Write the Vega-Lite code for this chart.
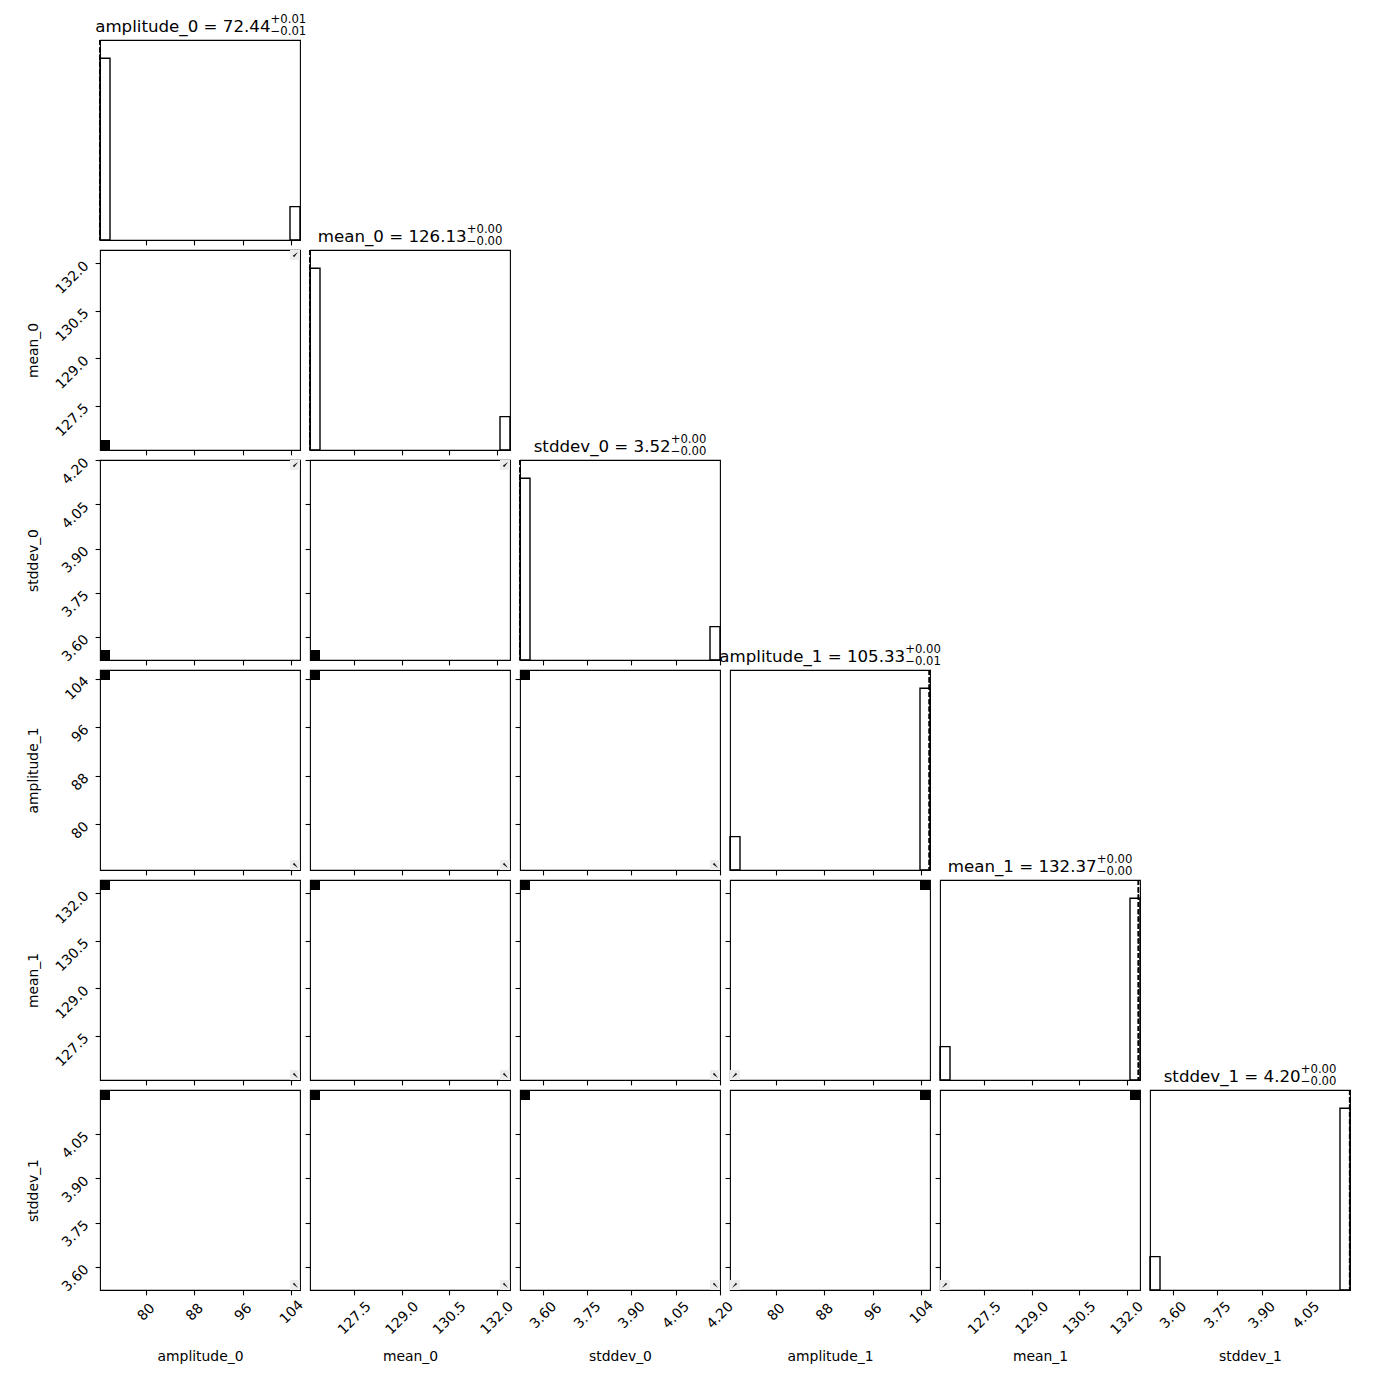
{
"$schema": "https://vega.github.io/schema/vega-lite/v6.json",
"background": "white",
"padding": {"left": 25, "top": 13, "right": 5, "bottom": 5},
"datasets": {
"modes": [
{"mode":"A","amplitude_0_lo":72.40,"amplitude_0_hi":74.052,"amplitude_0_mid":73.226,"mean_0_lo":126.10,"mean_0_hi":126.416,"mean_0_mid":126.258,"stddev_0_lo":3.522,"stddev_0_hi":3.5559,"stddev_0_mid":3.539,"amplitude_1_lo":103.788,"amplitude_1_hi":105.44,"amplitude_1_mid":104.614,"mean_1_lo":132.104,"mean_1_hi":132.42,"mean_1_mid":132.262,"stddev_1_lo":4.1651,"stddev_1_hi":4.199,"stddev_1_mid":4.182},
{"mode":"B","amplitude_0_lo":103.788,"amplitude_0_hi":105.44,"amplitude_0_mid":104.614,"mean_0_lo":132.104,"mean_0_hi":132.42,"mean_0_mid":132.262,"stddev_0_lo":4.1666,"stddev_0_hi":4.2005,"stddev_0_mid":4.1835,"amplitude_1_lo":72.40,"amplitude_1_hi":74.052,"amplitude_1_mid":73.226,"mean_1_lo":126.10,"mean_1_hi":126.416,"mean_1_mid":126.258,"stddev_1_lo":3.522,"stddev_1_hi":3.5559,"stddev_1_mid":3.539}
],
"hist": [
{"param":"amplitude_0","lo":72.40,"hi":74.052,"count":845},
{"param":"amplitude_0","lo":103.788,"hi":105.44,"count":155},
{"param":"mean_0","lo":126.10,"hi":126.416,"count":845},
{"param":"mean_0","lo":132.104,"hi":132.42,"count":155},
{"param":"stddev_0","lo":3.522,"hi":3.5559,"count":845},
{"param":"stddev_0","lo":4.1666,"hi":4.2005,"count":155},
{"param":"amplitude_1","lo":72.40,"hi":74.052,"count":155},
{"param":"amplitude_1","lo":103.788,"hi":105.44,"count":845},
{"param":"mean_1","lo":126.10,"hi":126.416,"count":155},
{"param":"mean_1","lo":132.104,"hi":132.42,"count":845},
{"param":"stddev_1","lo":3.522,"hi":3.5559,"count":155},
{"param":"stddev_1","lo":4.1651,"hi":4.199,"count":845}
],
"quantiles": [
{"param":"amplitude_0","value":72.401},{"param":"amplitude_0","value":72.402},{"param":"amplitude_0","value":72.403},
{"param":"mean_0","value":126.1002},{"param":"mean_0","value":126.1004},{"param":"mean_0","value":126.1006},
{"param":"stddev_0","value":3.5221},{"param":"stddev_0","value":3.5222},{"param":"stddev_0","value":3.5223},
{"param":"amplitude_1","value":105.32},{"param":"amplitude_1","value":105.33},{"param":"amplitude_1","value":105.334},
{"param":"mean_1","value":132.368},{"param":"mean_1","value":132.37},{"param":"mean_1","value":132.372},
{"param":"stddev_1","value":4.1975},{"param":"stddev_1","value":4.198},{"param":"stddev_1","value":4.1985}
],
"titles": [
{"param":"amplitude_0","label":"amplitude_0 = 72.44","up":"+0.01","down":"−0.01"},
{"param":"mean_0","label":"mean_0 = 126.13","up":"+0.00","down":"−0.00"},
{"param":"stddev_0","label":"stddev_0 = 3.52","up":"+0.00","down":"−0.00"},
{"param":"amplitude_1","label":"amplitude_1 = 105.33","up":"+0.00","down":"−0.01"},
{"param":"mean_1","label":"mean_1 = 132.37","up":"+0.00","down":"−0.00"},
{"param":"stddev_1","label":"stddev_1 = 4.20","up":"+0.00","down":"−0.00"}
],
"empty": []
},
"config": {
"view": {"stroke": "black", "strokeWidth": 1.1},
"axis": {"domain": false, "grid": false, "ticks": true, "tickColor": "black", "tickWidth": 1.1, "tickSize": 4.9, "labelFont": "DejaVu Sans", "labelFontSize": 13.9, "labelColor": "black", "labelAngle": -45, "labelAlign": "center", "labelBaseline": "middle", "labelOverlap": false, "labelFlush": false, "labelBound": false, "titleFont": "DejaVu Sans", "titleFontSize": 13.9, "titleFontWeight": "normal", "titleColor": "black"},
"axisX": {"titleBaseline": "middle", "titleX": 100, "titleY": 66, "titleAngle": 0},
"axisY": {"titleBaseline": "middle", "titleX": -67, "titleY": 100, "titleAngle": -90, "titleAlign": "center"},
"text": {"font": "DejaVu Sans"}
},
"columns": 6,
"bounds": "flush",
"spacing": 10,
"resolve": {"scale": {"x": "independent", "y": "independent"}},
"concat": [
{"width":200,"height":200,"layer":[
{"data":{"name":"hist"},"transform":[{"filter":"datum.param==='amplitude_0'"}],"mark":{"type":"rect","fill":"transparent","stroke":"black","strokeWidth":1.39},"encoding":{"x":{"field":"lo","type":"quantitative","scale":{"domain":[72.40,105.44],"nice":false,"zero":false},"axis":{"values":[80,88,96,104],"labels":false,"title":null}},"x2":{"field":"hi"},"y":{"field":"count","type":"quantitative","scale":{"domain":[0,929.5],"nice":false},"axis":null},"y2":{"datum":0}}},
{"data":{"name":"quantiles"},"transform":[{"filter":"datum.param==='amplitude_0'"}],"mark":{"type":"rule","color":"black","strokeWidth":1.39,"strokeDash":[5.1,2.2]},"encoding":{"x":{"field":"value","type":"quantitative"}}},
{"data":{"name":"titles"},"transform":[{"filter":"datum.param==='amplitude_0'"}],"mark":{"type":"text","align":"right","baseline":"alphabetic","fontSize":16.67,"color":"black"},"encoding":{"text":{"field":"label"},"x":{"datum":100.57},"y":{"datum":968.1}}},
{"data":{"name":"titles"},"transform":[{"filter":"datum.param==='amplitude_0'"}],"mark":{"type":"text","align":"left","baseline":"alphabetic","fontSize":11.67,"color":"black"},"encoding":{"text":{"field":"up"},"x":{"datum":100.57},"y":{"datum":1007.1}}},
{"data":{"name":"titles"},"transform":[{"filter":"datum.param==='amplitude_0'"}],"mark":{"type":"text","align":"left","baseline":"alphabetic","fontSize":11.67,"color":"black"},"encoding":{"text":{"field":"down"},"x":{"datum":100.57},"y":{"datum":952.7}}}
]},
{"width":200,"height":200,"view":{"stroke":null},"data":{"name":"empty"},"mark":"point"},
{"width":200,"height":200,"view":{"stroke":null},"data":{"name":"empty"},"mark":"point"},
{"width":200,"height":200,"view":{"stroke":null},"data":{"name":"empty"},"mark":"point"},
{"width":200,"height":200,"view":{"stroke":null},"data":{"name":"empty"},"mark":"point"},
{"width":200,"height":200,"view":{"stroke":null},"data":{"name":"empty"},"mark":"point"},

{"width":200,"height":200,"layer":[
{"data":{"name":"modes"},"transform":[{"filter":"datum.mode==='A'"}],"mark":{"type":"rect","color":"black"},"encoding":{"x":{"field":"amplitude_0_lo","type":"quantitative","scale":{"domain":[72.40,105.44],"nice":false,"zero":false},"axis":{"values":[80,88,96,104],"labels":false,"title":null}},"x2":{"field":"amplitude_0_hi"},"y":{"field":"mean_0_lo","type":"quantitative","scale":{"domain":[126.10,132.42],"nice":false,"zero":false},"axis":{"values":[127.5,129.0,130.5,132.0],"format":".1f","title":"mean_0","labelAlign":"right","labelPadding":9}},"y2":{"field":"mean_0_hi"}}},
{"data":{"name":"modes"},"transform":[{"filter":"datum.mode==='B'"}],"mark":{"type":"rect","color":"#ececec"},"encoding":{"x":{"field":"amplitude_0_lo","type":"quantitative"},"x2":{"field":"amplitude_0_hi"},"y":{"field":"mean_0_lo","type":"quantitative"},"y2":{"field":"mean_0_hi"}}},
{"data":{"name":"modes"},"transform":[{"filter":"datum.mode==='B'"}],"mark":{"type":"point","shape":"wedge","filled":true,"color":"#111111","opacity":1,"size":55,"angle":45},"encoding":{"x":{"field":"amplitude_0_mid","type":"quantitative"},"y":{"field":"mean_0_mid","type":"quantitative"}}}
]},
{"width":200,"height":200,"layer":[
{"data":{"name":"hist"},"transform":[{"filter":"datum.param==='mean_0'"}],"mark":{"type":"rect","fill":"transparent","stroke":"black","strokeWidth":1.39},"encoding":{"x":{"field":"lo","type":"quantitative","scale":{"domain":[126.10,132.42],"nice":false,"zero":false},"axis":{"values":[127.5,129.0,130.5,132.0],"labels":false,"title":null}},"x2":{"field":"hi"},"y":{"field":"count","type":"quantitative","scale":{"domain":[0,929.5],"nice":false},"axis":null},"y2":{"datum":0}}},
{"data":{"name":"quantiles"},"transform":[{"filter":"datum.param==='mean_0'"}],"mark":{"type":"rule","color":"black","strokeWidth":1.39,"strokeDash":[5.1,2.2]},"encoding":{"x":{"field":"value","type":"quantitative"}}},
{"data":{"name":"titles"},"transform":[{"filter":"datum.param==='mean_0'"}],"mark":{"type":"text","align":"right","baseline":"alphabetic","fontSize":16.67,"color":"black"},"encoding":{"text":{"field":"label"},"x":{"datum":131.052},"y":{"datum":968.1}}},
{"data":{"name":"titles"},"transform":[{"filter":"datum.param==='mean_0'"}],"mark":{"type":"text","align":"left","baseline":"alphabetic","fontSize":11.67,"color":"black"},"encoding":{"text":{"field":"up"},"x":{"datum":131.052},"y":{"datum":1007.1}}},
{"data":{"name":"titles"},"transform":[{"filter":"datum.param==='mean_0'"}],"mark":{"type":"text","align":"left","baseline":"alphabetic","fontSize":11.67,"color":"black"},"encoding":{"text":{"field":"down"},"x":{"datum":131.052},"y":{"datum":952.7}}}
]},
{"width":200,"height":200,"view":{"stroke":null},"data":{"name":"empty"},"mark":"point"},
{"width":200,"height":200,"view":{"stroke":null},"data":{"name":"empty"},"mark":"point"},
{"width":200,"height":200,"view":{"stroke":null},"data":{"name":"empty"},"mark":"point"},
{"width":200,"height":200,"view":{"stroke":null},"data":{"name":"empty"},"mark":"point"},

{"width":200,"height":200,"layer":[
{"data":{"name":"modes"},"transform":[{"filter":"datum.mode==='A'"}],"mark":{"type":"rect","color":"black"},"encoding":{"x":{"field":"amplitude_0_lo","type":"quantitative","scale":{"domain":[72.40,105.44],"nice":false,"zero":false},"axis":{"values":[80,88,96,104],"labels":false,"title":null}},"x2":{"field":"amplitude_0_hi"},"y":{"field":"stddev_0_lo","type":"quantitative","scale":{"domain":[3.522,4.2005],"nice":false,"zero":false},"axis":{"values":[3.60,3.75,3.90,4.05,4.20],"format":".2f","title":"stddev_0","labelAlign":"right","labelPadding":9}},"y2":{"field":"stddev_0_hi"}}},
{"data":{"name":"modes"},"transform":[{"filter":"datum.mode==='B'"}],"mark":{"type":"rect","color":"#ececec"},"encoding":{"x":{"field":"amplitude_0_lo","type":"quantitative"},"x2":{"field":"amplitude_0_hi"},"y":{"field":"stddev_0_lo","type":"quantitative"},"y2":{"field":"stddev_0_hi"}}},
{"data":{"name":"modes"},"transform":[{"filter":"datum.mode==='B'"}],"mark":{"type":"point","shape":"wedge","filled":true,"color":"#111111","opacity":1,"size":55,"angle":45},"encoding":{"x":{"field":"amplitude_0_mid","type":"quantitative"},"y":{"field":"stddev_0_mid","type":"quantitative"}}}
]},
{"width":200,"height":200,"layer":[
{"data":{"name":"modes"},"transform":[{"filter":"datum.mode==='A'"}],"mark":{"type":"rect","color":"black"},"encoding":{"x":{"field":"mean_0_lo","type":"quantitative","scale":{"domain":[126.10,132.42],"nice":false,"zero":false},"axis":{"values":[127.5,129.0,130.5,132.0],"labels":false,"title":null}},"x2":{"field":"mean_0_hi"},"y":{"field":"stddev_0_lo","type":"quantitative","scale":{"domain":[3.522,4.2005],"nice":false,"zero":false},"axis":{"values":[3.60,3.75,3.90,4.05,4.20],"labels":false,"title":null}},"y2":{"field":"stddev_0_hi"}}},
{"data":{"name":"modes"},"transform":[{"filter":"datum.mode==='B'"}],"mark":{"type":"rect","color":"#ececec"},"encoding":{"x":{"field":"mean_0_lo","type":"quantitative"},"x2":{"field":"mean_0_hi"},"y":{"field":"stddev_0_lo","type":"quantitative"},"y2":{"field":"stddev_0_hi"}}},
{"data":{"name":"modes"},"transform":[{"filter":"datum.mode==='B'"}],"mark":{"type":"point","shape":"wedge","filled":true,"color":"#111111","opacity":1,"size":55,"angle":45},"encoding":{"x":{"field":"mean_0_mid","type":"quantitative"},"y":{"field":"stddev_0_mid","type":"quantitative"}}}
]},
{"width":200,"height":200,"layer":[
{"data":{"name":"hist"},"transform":[{"filter":"datum.param==='stddev_0'"}],"mark":{"type":"rect","fill":"transparent","stroke":"black","strokeWidth":1.39},"encoding":{"x":{"field":"lo","type":"quantitative","scale":{"domain":[3.522,4.2005],"nice":false,"zero":false},"axis":{"values":[3.60,3.75,3.90,4.05,4.20],"labels":false,"title":null}},"x2":{"field":"hi"},"y":{"field":"count","type":"quantitative","scale":{"domain":[0,929.5],"nice":false},"axis":null},"y2":{"datum":0}}},
{"data":{"name":"quantiles"},"transform":[{"filter":"datum.param==='stddev_0'"}],"mark":{"type":"rule","color":"black","strokeWidth":1.39,"strokeDash":[5.1,2.2]},"encoding":{"x":{"field":"value","type":"quantitative"}}},
{"data":{"name":"titles"},"transform":[{"filter":"datum.param==='stddev_0'"}],"mark":{"type":"text","align":"right","baseline":"alphabetic","fontSize":16.67,"color":"black"},"encoding":{"text":{"field":"label"},"x":{"datum":4.0332},"y":{"datum":968.1}}},
{"data":{"name":"titles"},"transform":[{"filter":"datum.param==='stddev_0'"}],"mark":{"type":"text","align":"left","baseline":"alphabetic","fontSize":11.67,"color":"black"},"encoding":{"text":{"field":"up"},"x":{"datum":4.0332},"y":{"datum":1007.1}}},
{"data":{"name":"titles"},"transform":[{"filter":"datum.param==='stddev_0'"}],"mark":{"type":"text","align":"left","baseline":"alphabetic","fontSize":11.67,"color":"black"},"encoding":{"text":{"field":"down"},"x":{"datum":4.0332},"y":{"datum":952.7}}}
]},
{"width":200,"height":200,"view":{"stroke":null},"data":{"name":"empty"},"mark":"point"},
{"width":200,"height":200,"view":{"stroke":null},"data":{"name":"empty"},"mark":"point"},
{"width":200,"height":200,"view":{"stroke":null},"data":{"name":"empty"},"mark":"point"},

{"width":200,"height":200,"layer":[
{"data":{"name":"modes"},"transform":[{"filter":"datum.mode==='A'"}],"mark":{"type":"rect","color":"black"},"encoding":{"x":{"field":"amplitude_0_lo","type":"quantitative","scale":{"domain":[72.40,105.44],"nice":false,"zero":false},"axis":{"values":[80,88,96,104],"labels":false,"title":null}},"x2":{"field":"amplitude_0_hi"},"y":{"field":"amplitude_1_lo","type":"quantitative","scale":{"domain":[72.40,105.44],"nice":false,"zero":false},"axis":{"values":[80,88,96,104],"title":"amplitude_1","labelAlign":"right","labelPadding":9}},"y2":{"field":"amplitude_1_hi"}}},
{"data":{"name":"modes"},"transform":[{"filter":"datum.mode==='B'"}],"mark":{"type":"rect","color":"#ececec"},"encoding":{"x":{"field":"amplitude_0_lo","type":"quantitative"},"x2":{"field":"amplitude_0_hi"},"y":{"field":"amplitude_1_lo","type":"quantitative"},"y2":{"field":"amplitude_1_hi"}}},
{"data":{"name":"modes"},"transform":[{"filter":"datum.mode==='B'"}],"mark":{"type":"point","shape":"wedge","filled":true,"color":"#111111","opacity":1,"size":55,"angle":135},"encoding":{"x":{"field":"amplitude_0_mid","type":"quantitative"},"y":{"field":"amplitude_1_mid","type":"quantitative"}}}
]},
{"width":200,"height":200,"layer":[
{"data":{"name":"modes"},"transform":[{"filter":"datum.mode==='A'"}],"mark":{"type":"rect","color":"black"},"encoding":{"x":{"field":"mean_0_lo","type":"quantitative","scale":{"domain":[126.10,132.42],"nice":false,"zero":false},"axis":{"values":[127.5,129.0,130.5,132.0],"labels":false,"title":null}},"x2":{"field":"mean_0_hi"},"y":{"field":"amplitude_1_lo","type":"quantitative","scale":{"domain":[72.40,105.44],"nice":false,"zero":false},"axis":{"values":[80,88,96,104],"labels":false,"title":null}},"y2":{"field":"amplitude_1_hi"}}},
{"data":{"name":"modes"},"transform":[{"filter":"datum.mode==='B'"}],"mark":{"type":"rect","color":"#ececec"},"encoding":{"x":{"field":"mean_0_lo","type":"quantitative"},"x2":{"field":"mean_0_hi"},"y":{"field":"amplitude_1_lo","type":"quantitative"},"y2":{"field":"amplitude_1_hi"}}},
{"data":{"name":"modes"},"transform":[{"filter":"datum.mode==='B'"}],"mark":{"type":"point","shape":"wedge","filled":true,"color":"#111111","opacity":1,"size":55,"angle":135},"encoding":{"x":{"field":"mean_0_mid","type":"quantitative"},"y":{"field":"amplitude_1_mid","type":"quantitative"}}}
]},
{"width":200,"height":200,"layer":[
{"data":{"name":"modes"},"transform":[{"filter":"datum.mode==='A'"}],"mark":{"type":"rect","color":"black"},"encoding":{"x":{"field":"stddev_0_lo","type":"quantitative","scale":{"domain":[3.522,4.2005],"nice":false,"zero":false},"axis":{"values":[3.60,3.75,3.90,4.05,4.20],"labels":false,"title":null}},"x2":{"field":"stddev_0_hi"},"y":{"field":"amplitude_1_lo","type":"quantitative","scale":{"domain":[72.40,105.44],"nice":false,"zero":false},"axis":{"values":[80,88,96,104],"labels":false,"title":null}},"y2":{"field":"amplitude_1_hi"}}},
{"data":{"name":"modes"},"transform":[{"filter":"datum.mode==='B'"}],"mark":{"type":"rect","color":"#ececec"},"encoding":{"x":{"field":"stddev_0_lo","type":"quantitative"},"x2":{"field":"stddev_0_hi"},"y":{"field":"amplitude_1_lo","type":"quantitative"},"y2":{"field":"amplitude_1_hi"}}},
{"data":{"name":"modes"},"transform":[{"filter":"datum.mode==='B'"}],"mark":{"type":"point","shape":"wedge","filled":true,"color":"#111111","opacity":1,"size":55,"angle":135},"encoding":{"x":{"field":"stddev_0_mid","type":"quantitative"},"y":{"field":"amplitude_1_mid","type":"quantitative"}}}
]},
{"width":200,"height":200,"layer":[
{"data":{"name":"hist"},"transform":[{"filter":"datum.param==='amplitude_1'"}],"mark":{"type":"rect","fill":"transparent","stroke":"black","strokeWidth":1.39},"encoding":{"x":{"field":"lo","type":"quantitative","scale":{"domain":[72.40,105.44],"nice":false,"zero":false},"axis":{"values":[80,88,96,104],"labels":false,"title":null}},"x2":{"field":"hi"},"y":{"field":"count","type":"quantitative","scale":{"domain":[0,929.5],"nice":false},"axis":null},"y2":{"datum":0}}},
{"data":{"name":"quantiles"},"transform":[{"filter":"datum.param==='amplitude_1'"}],"mark":{"type":"rule","color":"black","strokeWidth":1.39,"strokeDash":[5.1,2.2]},"encoding":{"x":{"field":"value","type":"quantitative"}}},
{"data":{"name":"titles"},"transform":[{"filter":"datum.param==='amplitude_1'"}],"mark":{"type":"text","align":"right","baseline":"alphabetic","fontSize":16.67,"color":"black"},"encoding":{"text":{"field":"label"},"x":{"datum":101.34},"y":{"datum":968.1}}},
{"data":{"name":"titles"},"transform":[{"filter":"datum.param==='amplitude_1'"}],"mark":{"type":"text","align":"left","baseline":"alphabetic","fontSize":11.67,"color":"black"},"encoding":{"text":{"field":"up"},"x":{"datum":101.34},"y":{"datum":1007.1}}},
{"data":{"name":"titles"},"transform":[{"filter":"datum.param==='amplitude_1'"}],"mark":{"type":"text","align":"left","baseline":"alphabetic","fontSize":11.67,"color":"black"},"encoding":{"text":{"field":"down"},"x":{"datum":101.34},"y":{"datum":952.7}}}
]},
{"width":200,"height":200,"view":{"stroke":null},"data":{"name":"empty"},"mark":"point"},
{"width":200,"height":200,"view":{"stroke":null},"data":{"name":"empty"},"mark":"point"},

{"width":200,"height":200,"layer":[
{"data":{"name":"modes"},"transform":[{"filter":"datum.mode==='A'"}],"mark":{"type":"rect","color":"black"},"encoding":{"x":{"field":"amplitude_0_lo","type":"quantitative","scale":{"domain":[72.40,105.44],"nice":false,"zero":false},"axis":{"values":[80,88,96,104],"labels":false,"title":null}},"x2":{"field":"amplitude_0_hi"},"y":{"field":"mean_1_lo","type":"quantitative","scale":{"domain":[126.10,132.42],"nice":false,"zero":false},"axis":{"values":[127.5,129.0,130.5,132.0],"format":".1f","title":"mean_1","labelAlign":"right","labelPadding":9}},"y2":{"field":"mean_1_hi"}}},
{"data":{"name":"modes"},"transform":[{"filter":"datum.mode==='B'"}],"mark":{"type":"rect","color":"#ececec"},"encoding":{"x":{"field":"amplitude_0_lo","type":"quantitative"},"x2":{"field":"amplitude_0_hi"},"y":{"field":"mean_1_lo","type":"quantitative"},"y2":{"field":"mean_1_hi"}}},
{"data":{"name":"modes"},"transform":[{"filter":"datum.mode==='B'"}],"mark":{"type":"point","shape":"wedge","filled":true,"color":"#111111","opacity":1,"size":55,"angle":135},"encoding":{"x":{"field":"amplitude_0_mid","type":"quantitative"},"y":{"field":"mean_1_mid","type":"quantitative"}}}
]},
{"width":200,"height":200,"layer":[
{"data":{"name":"modes"},"transform":[{"filter":"datum.mode==='A'"}],"mark":{"type":"rect","color":"black"},"encoding":{"x":{"field":"mean_0_lo","type":"quantitative","scale":{"domain":[126.10,132.42],"nice":false,"zero":false},"axis":{"values":[127.5,129.0,130.5,132.0],"labels":false,"title":null}},"x2":{"field":"mean_0_hi"},"y":{"field":"mean_1_lo","type":"quantitative","scale":{"domain":[126.10,132.42],"nice":false,"zero":false},"axis":{"values":[127.5,129.0,130.5,132.0],"labels":false,"title":null}},"y2":{"field":"mean_1_hi"}}},
{"data":{"name":"modes"},"transform":[{"filter":"datum.mode==='B'"}],"mark":{"type":"rect","color":"#ececec"},"encoding":{"x":{"field":"mean_0_lo","type":"quantitative"},"x2":{"field":"mean_0_hi"},"y":{"field":"mean_1_lo","type":"quantitative"},"y2":{"field":"mean_1_hi"}}},
{"data":{"name":"modes"},"transform":[{"filter":"datum.mode==='B'"}],"mark":{"type":"point","shape":"wedge","filled":true,"color":"#111111","opacity":1,"size":55,"angle":135},"encoding":{"x":{"field":"mean_0_mid","type":"quantitative"},"y":{"field":"mean_1_mid","type":"quantitative"}}}
]},
{"width":200,"height":200,"layer":[
{"data":{"name":"modes"},"transform":[{"filter":"datum.mode==='A'"}],"mark":{"type":"rect","color":"black"},"encoding":{"x":{"field":"stddev_0_lo","type":"quantitative","scale":{"domain":[3.522,4.2005],"nice":false,"zero":false},"axis":{"values":[3.60,3.75,3.90,4.05,4.20],"labels":false,"title":null}},"x2":{"field":"stddev_0_hi"},"y":{"field":"mean_1_lo","type":"quantitative","scale":{"domain":[126.10,132.42],"nice":false,"zero":false},"axis":{"values":[127.5,129.0,130.5,132.0],"labels":false,"title":null}},"y2":{"field":"mean_1_hi"}}},
{"data":{"name":"modes"},"transform":[{"filter":"datum.mode==='B'"}],"mark":{"type":"rect","color":"#ececec"},"encoding":{"x":{"field":"stddev_0_lo","type":"quantitative"},"x2":{"field":"stddev_0_hi"},"y":{"field":"mean_1_lo","type":"quantitative"},"y2":{"field":"mean_1_hi"}}},
{"data":{"name":"modes"},"transform":[{"filter":"datum.mode==='B'"}],"mark":{"type":"point","shape":"wedge","filled":true,"color":"#111111","opacity":1,"size":55,"angle":135},"encoding":{"x":{"field":"stddev_0_mid","type":"quantitative"},"y":{"field":"mean_1_mid","type":"quantitative"}}}
]},
{"width":200,"height":200,"layer":[
{"data":{"name":"modes"},"transform":[{"filter":"datum.mode==='A'"}],"mark":{"type":"rect","color":"black"},"encoding":{"x":{"field":"amplitude_1_lo","type":"quantitative","scale":{"domain":[72.40,105.44],"nice":false,"zero":false},"axis":{"values":[80,88,96,104],"labels":false,"title":null}},"x2":{"field":"amplitude_1_hi"},"y":{"field":"mean_1_lo","type":"quantitative","scale":{"domain":[126.10,132.42],"nice":false,"zero":false},"axis":{"values":[127.5,129.0,130.5,132.0],"labels":false,"title":null}},"y2":{"field":"mean_1_hi"}}},
{"data":{"name":"modes"},"transform":[{"filter":"datum.mode==='B'"}],"mark":{"type":"rect","color":"#ececec"},"encoding":{"x":{"field":"amplitude_1_lo","type":"quantitative"},"x2":{"field":"amplitude_1_hi"},"y":{"field":"mean_1_lo","type":"quantitative"},"y2":{"field":"mean_1_hi"}}},
{"data":{"name":"modes"},"transform":[{"filter":"datum.mode==='B'"}],"mark":{"type":"point","shape":"wedge","filled":true,"color":"#111111","opacity":1,"size":55,"angle":225},"encoding":{"x":{"field":"amplitude_1_mid","type":"quantitative"},"y":{"field":"mean_1_mid","type":"quantitative"}}}
]},
{"width":200,"height":200,"layer":[
{"data":{"name":"hist"},"transform":[{"filter":"datum.param==='mean_1'"}],"mark":{"type":"rect","fill":"transparent","stroke":"black","strokeWidth":1.39},"encoding":{"x":{"field":"lo","type":"quantitative","scale":{"domain":[126.10,132.42],"nice":false,"zero":false},"axis":{"values":[127.5,129.0,130.5,132.0],"labels":false,"title":null}},"x2":{"field":"hi"},"y":{"field":"count","type":"quantitative","scale":{"domain":[0,929.5],"nice":false},"axis":null},"y2":{"datum":0}}},
{"data":{"name":"quantiles"},"transform":[{"filter":"datum.param==='mean_1'"}],"mark":{"type":"rule","color":"black","strokeWidth":1.39,"strokeDash":[5.1,2.2]},"encoding":{"x":{"field":"value","type":"quantitative"}}},
{"data":{"name":"titles"},"transform":[{"filter":"datum.param==='mean_1'"}],"mark":{"type":"text","align":"right","baseline":"alphabetic","fontSize":16.67,"color":"black"},"encoding":{"text":{"field":"label"},"x":{"datum":131.052},"y":{"datum":968.1}}},
{"data":{"name":"titles"},"transform":[{"filter":"datum.param==='mean_1'"}],"mark":{"type":"text","align":"left","baseline":"alphabetic","fontSize":11.67,"color":"black"},"encoding":{"text":{"field":"up"},"x":{"datum":131.052},"y":{"datum":1007.1}}},
{"data":{"name":"titles"},"transform":[{"filter":"datum.param==='mean_1'"}],"mark":{"type":"text","align":"left","baseline":"alphabetic","fontSize":11.67,"color":"black"},"encoding":{"text":{"field":"down"},"x":{"datum":131.052},"y":{"datum":952.7}}}
]},
{"width":200,"height":200,"view":{"stroke":null},"data":{"name":"empty"},"mark":"point"},

{"width":200,"height":200,"layer":[
{"data":{"name":"modes"},"transform":[{"filter":"datum.mode==='A'"}],"mark":{"type":"rect","color":"black"},"encoding":{"x":{"field":"amplitude_0_lo","type":"quantitative","scale":{"domain":[72.40,105.44],"nice":false,"zero":false},"axis":{"values":[80,88,96,104],"title":"amplitude_0","labelPadding":17}},"x2":{"field":"amplitude_0_hi"},"y":{"field":"stddev_1_lo","type":"quantitative","scale":{"domain":[3.522,4.199],"nice":false,"zero":false},"axis":{"values":[3.60,3.75,3.90,4.05],"format":".2f","title":"stddev_1","labelAlign":"right","labelPadding":9}},"y2":{"field":"stddev_1_hi"}}},
{"data":{"name":"modes"},"transform":[{"filter":"datum.mode==='B'"}],"mark":{"type":"rect","color":"#ececec"},"encoding":{"x":{"field":"amplitude_0_lo","type":"quantitative"},"x2":{"field":"amplitude_0_hi"},"y":{"field":"stddev_1_lo","type":"quantitative"},"y2":{"field":"stddev_1_hi"}}},
{"data":{"name":"modes"},"transform":[{"filter":"datum.mode==='B'"}],"mark":{"type":"point","shape":"wedge","filled":true,"color":"#111111","opacity":1,"size":55,"angle":135},"encoding":{"x":{"field":"amplitude_0_mid","type":"quantitative"},"y":{"field":"stddev_1_mid","type":"quantitative"}}}
]},
{"width":200,"height":200,"layer":[
{"data":{"name":"modes"},"transform":[{"filter":"datum.mode==='A'"}],"mark":{"type":"rect","color":"black"},"encoding":{"x":{"field":"mean_0_lo","type":"quantitative","scale":{"domain":[126.10,132.42],"nice":false,"zero":false},"axis":{"values":[127.5,129.0,130.5,132.0],"format":".1f","title":"mean_0","labelPadding":23}},"x2":{"field":"mean_0_hi"},"y":{"field":"stddev_1_lo","type":"quantitative","scale":{"domain":[3.522,4.199],"nice":false,"zero":false},"axis":{"values":[3.60,3.75,3.90,4.05],"labels":false,"title":null}},"y2":{"field":"stddev_1_hi"}}},
{"data":{"name":"modes"},"transform":[{"filter":"datum.mode==='B'"}],"mark":{"type":"rect","color":"#ececec"},"encoding":{"x":{"field":"mean_0_lo","type":"quantitative"},"x2":{"field":"mean_0_hi"},"y":{"field":"stddev_1_lo","type":"quantitative"},"y2":{"field":"stddev_1_hi"}}},
{"data":{"name":"modes"},"transform":[{"filter":"datum.mode==='B'"}],"mark":{"type":"point","shape":"wedge","filled":true,"color":"#111111","opacity":1,"size":55,"angle":135},"encoding":{"x":{"field":"mean_0_mid","type":"quantitative"},"y":{"field":"stddev_1_mid","type":"quantitative"}}}
]},
{"width":200,"height":200,"layer":[
{"data":{"name":"modes"},"transform":[{"filter":"datum.mode==='A'"}],"mark":{"type":"rect","color":"black"},"encoding":{"x":{"field":"stddev_0_lo","type":"quantitative","scale":{"domain":[3.522,4.2005],"nice":false,"zero":false},"axis":{"values":[3.60,3.75,3.90,4.05,4.20],"format":".2f","title":"stddev_0","labelPadding":20}},"x2":{"field":"stddev_0_hi"},"y":{"field":"stddev_1_lo","type":"quantitative","scale":{"domain":[3.522,4.199],"nice":false,"zero":false},"axis":{"values":[3.60,3.75,3.90,4.05],"labels":false,"title":null}},"y2":{"field":"stddev_1_hi"}}},
{"data":{"name":"modes"},"transform":[{"filter":"datum.mode==='B'"}],"mark":{"type":"rect","color":"#ececec"},"encoding":{"x":{"field":"stddev_0_lo","type":"quantitative"},"x2":{"field":"stddev_0_hi"},"y":{"field":"stddev_1_lo","type":"quantitative"},"y2":{"field":"stddev_1_hi"}}},
{"data":{"name":"modes"},"transform":[{"filter":"datum.mode==='B'"}],"mark":{"type":"point","shape":"wedge","filled":true,"color":"#111111","opacity":1,"size":55,"angle":135},"encoding":{"x":{"field":"stddev_0_mid","type":"quantitative"},"y":{"field":"stddev_1_mid","type":"quantitative"}}}
]},
{"width":200,"height":200,"layer":[
{"data":{"name":"modes"},"transform":[{"filter":"datum.mode==='A'"}],"mark":{"type":"rect","color":"black"},"encoding":{"x":{"field":"amplitude_1_lo","type":"quantitative","scale":{"domain":[72.40,105.44],"nice":false,"zero":false},"axis":{"values":[80,88,96,104],"title":"amplitude_1","labelPadding":17}},"x2":{"field":"amplitude_1_hi"},"y":{"field":"stddev_1_lo","type":"quantitative","scale":{"domain":[3.522,4.199],"nice":false,"zero":false},"axis":{"values":[3.60,3.75,3.90,4.05],"labels":false,"title":null}},"y2":{"field":"stddev_1_hi"}}},
{"data":{"name":"modes"},"transform":[{"filter":"datum.mode==='B'"}],"mark":{"type":"rect","color":"#ececec"},"encoding":{"x":{"field":"amplitude_1_lo","type":"quantitative"},"x2":{"field":"amplitude_1_hi"},"y":{"field":"stddev_1_lo","type":"quantitative"},"y2":{"field":"stddev_1_hi"}}},
{"data":{"name":"modes"},"transform":[{"filter":"datum.mode==='B'"}],"mark":{"type":"point","shape":"wedge","filled":true,"color":"#111111","opacity":1,"size":55,"angle":225},"encoding":{"x":{"field":"amplitude_1_mid","type":"quantitative"},"y":{"field":"stddev_1_mid","type":"quantitative"}}}
]},
{"width":200,"height":200,"layer":[
{"data":{"name":"modes"},"transform":[{"filter":"datum.mode==='A'"}],"mark":{"type":"rect","color":"black"},"encoding":{"x":{"field":"mean_1_lo","type":"quantitative","scale":{"domain":[126.10,132.42],"nice":false,"zero":false},"axis":{"values":[127.5,129.0,130.5,132.0],"format":".1f","title":"mean_1","labelPadding":23}},"x2":{"field":"mean_1_hi"},"y":{"field":"stddev_1_lo","type":"quantitative","scale":{"domain":[3.522,4.199],"nice":false,"zero":false},"axis":{"values":[3.60,3.75,3.90,4.05],"labels":false,"title":null}},"y2":{"field":"stddev_1_hi"}}},
{"data":{"name":"modes"},"transform":[{"filter":"datum.mode==='B'"}],"mark":{"type":"rect","color":"#ececec"},"encoding":{"x":{"field":"mean_1_lo","type":"quantitative"},"x2":{"field":"mean_1_hi"},"y":{"field":"stddev_1_lo","type":"quantitative"},"y2":{"field":"stddev_1_hi"}}},
{"data":{"name":"modes"},"transform":[{"filter":"datum.mode==='B'"}],"mark":{"type":"point","shape":"wedge","filled":true,"color":"#111111","opacity":1,"size":55,"angle":225},"encoding":{"x":{"field":"mean_1_mid","type":"quantitative"},"y":{"field":"stddev_1_mid","type":"quantitative"}}}
]},
{"width":200,"height":200,"layer":[
{"data":{"name":"hist"},"transform":[{"filter":"datum.param==='stddev_1'"}],"mark":{"type":"rect","fill":"transparent","stroke":"black","strokeWidth":1.39},"encoding":{"x":{"field":"lo","type":"quantitative","scale":{"domain":[3.522,4.199],"nice":false,"zero":false},"axis":{"values":[3.60,3.75,3.90,4.05],"format":".2f","title":"stddev_1","labelPadding":20}},"x2":{"field":"hi"},"y":{"field":"count","type":"quantitative","scale":{"domain":[0,929.5],"nice":false},"axis":null},"y2":{"datum":0}}},
{"data":{"name":"quantiles"},"transform":[{"filter":"datum.param==='stddev_1'"}],"mark":{"type":"rule","color":"black","strokeWidth":1.39,"strokeDash":[5.1,2.2]},"encoding":{"x":{"field":"value","type":"quantitative"}}},
{"data":{"name":"titles"},"transform":[{"filter":"datum.param==='stddev_1'"}],"mark":{"type":"text","align":"right","baseline":"alphabetic","fontSize":16.67,"color":"black"},"encoding":{"text":{"field":"label"},"x":{"datum":4.0321},"y":{"datum":968.1}}},
{"data":{"name":"titles"},"transform":[{"filter":"datum.param==='stddev_1'"}],"mark":{"type":"text","align":"left","baseline":"alphabetic","fontSize":11.67,"color":"black"},"encoding":{"text":{"field":"up"},"x":{"datum":4.0321},"y":{"datum":1007.1}}},
{"data":{"name":"titles"},"transform":[{"filter":"datum.param==='stddev_1'"}],"mark":{"type":"text","align":"left","baseline":"alphabetic","fontSize":11.67,"color":"black"},"encoding":{"text":{"field":"down"},"x":{"datum":4.0321},"y":{"datum":952.7}}}
]}
]
}
